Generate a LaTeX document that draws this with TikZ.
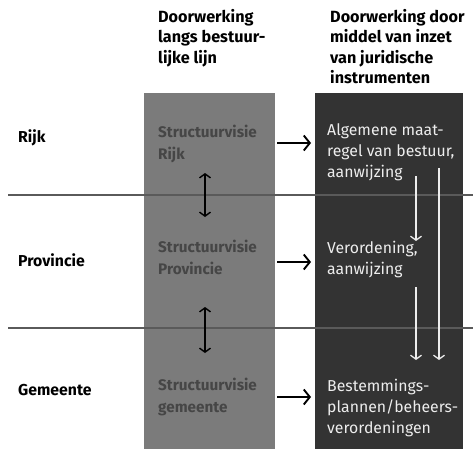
\documentclass[tikz,border=0pt]{standalone}
\usepackage{fontspec}
\setmainfont{Fira Sans}
\usetikzlibrary{arrows.meta,positioning,calc}
\definecolor{ColGray}{HTML}{7B7B7B}
\definecolor{ColDark}{HTML}{333333}
\definecolor{TextGray}{HTML}{464646}
\definecolor{LineGray}{HTML}{5A5A5A}
\definecolor{TextLight}{HTML}{EDEDED}
\tikzset{
  header/.style={anchor=north west,align=left,inner sep=0pt,
    font=\fontsize{16.2}{20.5}\selectfont\bfseries},
  level/.style={anchor=west,inner sep=0pt,font=\fontsize{15.8}{17}\selectfont\bfseries},
  visie/.style={anchor=west,align=left,inner sep=0pt,text=TextGray,
    font=\fontsize{15.3}{22}\selectfont\bfseries},
  instr/.style={anchor=west,align=left,inner sep=0pt,text=TextLight,
    font=\fontsize{15.8}{21}\selectfont},
  column/.style={anchor=north west,inner sep=0pt,minimum height=356pt},
  divider/.style={draw=LineGray,line width=1.4pt},
  flowarrow/.style={-{Straight Barb[length=6pt,width=15pt]},line width=1.9pt},
  dblarrow/.style={{Straight Barb[length=4pt,width=11pt]}-{Straight Barb[length=4pt,width=11pt]},line width=1.4pt},
  whitearrow/.style={-{Straight Barb[length=4pt,width=11pt]},draw=TextLight,line width=1.3pt}
}
\begin{document}
\begin{tikzpicture}[x=1pt,y=-1pt]
  \useasboundingbox (0,0) rectangle (473,449);
  \fill[white] (0,0) rectangle (473,449);
  % kolommen
  \node[column,fill=ColGray,minimum width=131pt] (bestuur) at (144,93) {};
  \node[column,fill=ColDark,minimum width=148pt] (juridisch) at (315,93) {};
  \draw[divider] (8,195) -- (473,195);
  \draw[divider] (8,328) -- (473,328);
  % koppen
  \node[header] (hbestuur) at (158,9) {Doorwerking\\langs bestuur-\\lijke lijn};
  \node[header] (hjuridisch) at (330,9) {Doorwerking door\\middel van inzet\\van juridische\\instrumenten};
  % bestuurslagen
  \node[level] (rijk) at (18,138) {Rijk};
  \node[level] (provincie) at (18,260) {Provincie};
  \node[level] (gemeente) at (18,390) {Gemeente};
  % structuurvisies
  \node[visie] (vRijk) at (158,144) {Structuurvisie\\Rijk};
  \node[visie] (vProv) at (158,257) {Structuurvisie\\Provincie};
  \node[visie] (vGem) at (158,397) {Structuurvisie\\gemeente};
  % instrumenten
  \node[instr] (iRijk) at (327,152) {Algemene maat-\\regel van bestuur,\\aanwijzing};
  \node[instr] (iProv) at (327,260) {Verordening,\\aanwijzing};
  \node[instr] (iGem) at (327,408) {Bestemmings-\\plannen/beheers-\\verordeningen};
  % pijlen
  \draw[flowarrow] ($(bestuur.east |- vRijk)+(2,-1)$) -- ($(juridisch.west |- vRijk)+(-4,-1)$);
  \draw[flowarrow] ($(bestuur.east |- vProv)+(2,5)$) -- ($(juridisch.west |- vProv)+(-4,5)$);
  \draw[flowarrow] ($(bestuur.east |- vGem)+(2,0)$) -- ($(juridisch.west |- vGem)+(-4,0)$);
  \coordinate (dR1) at (205,173);
  \coordinate (dR2) at (205,217);
  \coordinate (dP1) at (205,307);
  \coordinate (dP2) at (205,353);
  \draw[dblarrow] (dR1) -- (dR2);
  \draw[dblarrow] (dP1) -- (dP2);
  \coordinate (wA1) at (416,176);
  \coordinate (wA2) at (416,241);
  \coordinate (wB1) at (416,287);
  \coordinate (wB2) at (416,360);
  \coordinate (wC1) at (439,168);
  \coordinate (wC2) at (439,360);
  \draw[whitearrow] (wA1) -- (wA2);
  \draw[whitearrow] (wB1) -- (wB2);
  \draw[whitearrow] (wC1) -- (wC2);
\end{tikzpicture}
\end{document}
